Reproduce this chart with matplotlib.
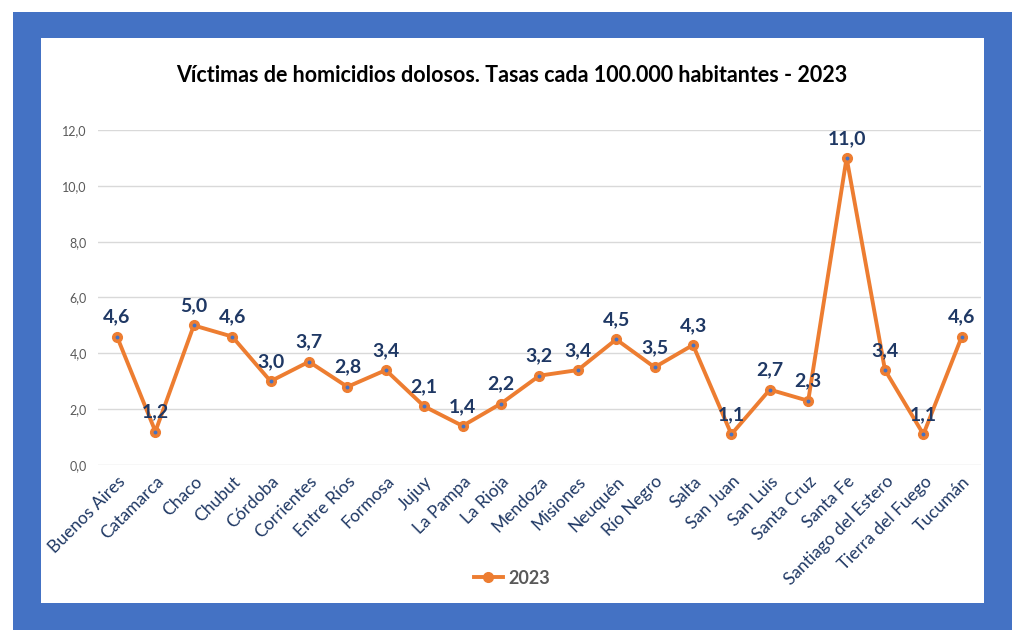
import matplotlib
matplotlib.use("Agg")
import matplotlib.pyplot as plt
from matplotlib.patches import Rectangle

# ── Data ─────────────────────────────────────────────
provincias = [
    "Buenos Aires", "Catamarca", "Chaco", "Chubut", "Córdoba", "Corrientes",
    "Entre Ríos", "Formosa", "Jujuy", "La Pampa", "La Rioja", "Mendoza",
    "Misiones", "Neuquén", "Río Negro", "Salta", "San Juan", "San Luis",
    "Santa Cruz", "Santa Fe", "Santiago del Estero", "Tierra del Fuego", "Tucumán",
]
tasas_2023 = [
    4.6, 1.2, 5.0, 4.6, 3.0, 3.7, 2.8, 3.4, 2.1, 1.4, 2.2, 3.2,
    3.4, 4.5, 3.5, 4.3, 1.1, 2.7, 2.3, 11.0, 3.4, 1.1, 4.6,
]
y_ticks = [0, 2, 4, 6, 8, 10, 12]
serie = "2023"

# ── Style ────────────────────────────────────────────
AZUL_MARCO = "#4472C4"
NARANJA = "#ED7D31"
AZUL_TEXTO = "#1F3864"
GRIS_TICK = "#595959"
GRILLA = "#D9D9D9"
plt.rcParams["font.family"] = ["Lato", "DejaVu Sans"]

fig = plt.figure(figsize=(10.24, 6.43), dpi=100)
W, H = 1024, 643

# blue frame + white inner card (behind the axes)
bg = fig.add_axes([0, 0, 1, 1], zorder=-10)
bg.set_xlim(0, W)
bg.set_ylim(H, 0)
bg.axis("off")
bg.add_patch(Rectangle((13, 12), 1012 - 13, 630 - 12, facecolor=AZUL_MARCO, edgecolor="none"))
bg.add_patch(Rectangle((41, 38), 984 - 41, 603 - 38, facecolor="white", edgecolor="none"))

ax = fig.add_axes([97.8 / W, 178 / H, (981 - 97.8) / W, (465 - 130) / H])
ax.set_facecolor("none")

x = list(range(len(provincias)))
linea, = ax.plot(x, tasas_2023, color=NARANJA, linewidth=2.8, marker="o", markersize=7,
                 markerfacecolor=NARANJA, markeredgecolor=NARANJA, label=serie, zorder=3,
                 solid_joinstyle="round")
ax.plot(x, tasas_2023, linestyle="none", marker="o", markersize=1.8,
        color=AZUL_MARCO, zorder=4)

for xi, v in zip(x, tasas_2023):
    ax.annotate(f"{v:.1f}".replace(".", ","), (xi, v), xytext=(0, 8),
                textcoords="offset points", ha="center", va="bottom",
                fontsize=14, fontweight="bold", color=AZUL_TEXTO, zorder=5)

ax.set_xlim(-0.5, len(provincias) - 0.5)
ax.set_ylim(0, 12)
ax.set_yticks(y_ticks)
ax.set_yticklabels([f"{t:.1f}".replace(".", ",") for t in y_ticks],
                   fontsize=9, color=GRIS_TICK)
ax.set_xticks(x)
ax.set_xticklabels(provincias, rotation=45, ha="right", rotation_mode="anchor",
                   fontsize=12.5, color=AZUL_TEXTO)
ax.tick_params(axis="both", length=0)
ax.tick_params(axis="y", pad=8)
ax.tick_params(axis="x", pad=6)
ax.grid(axis="y", color=GRILLA, linewidth=1)
ax.set_axisbelow(True)
for s in ax.spines.values():
    s.set_visible(False)

fig.text(512 / W, 1 - 75 / H,
         "Víctimas de homicidios dolosos. Tasas cada 100.000 habitantes - 2023",
         ha="center", va="center", fontsize=15.5, fontweight="bold", color="black")

leg = fig.legend([linea], [serie], loc="center",
                 bbox_to_anchor=(512 / W, 1 - 578 / H), frameon=False,
                 prop={"size": 13, "weight": "bold"}, handlelength=1.6,
                 handletextpad=0.3)
for t in leg.get_texts():
    t.set_color(GRIS_TICK)

fig.savefig("out.png", dpi=100, facecolor="white")
